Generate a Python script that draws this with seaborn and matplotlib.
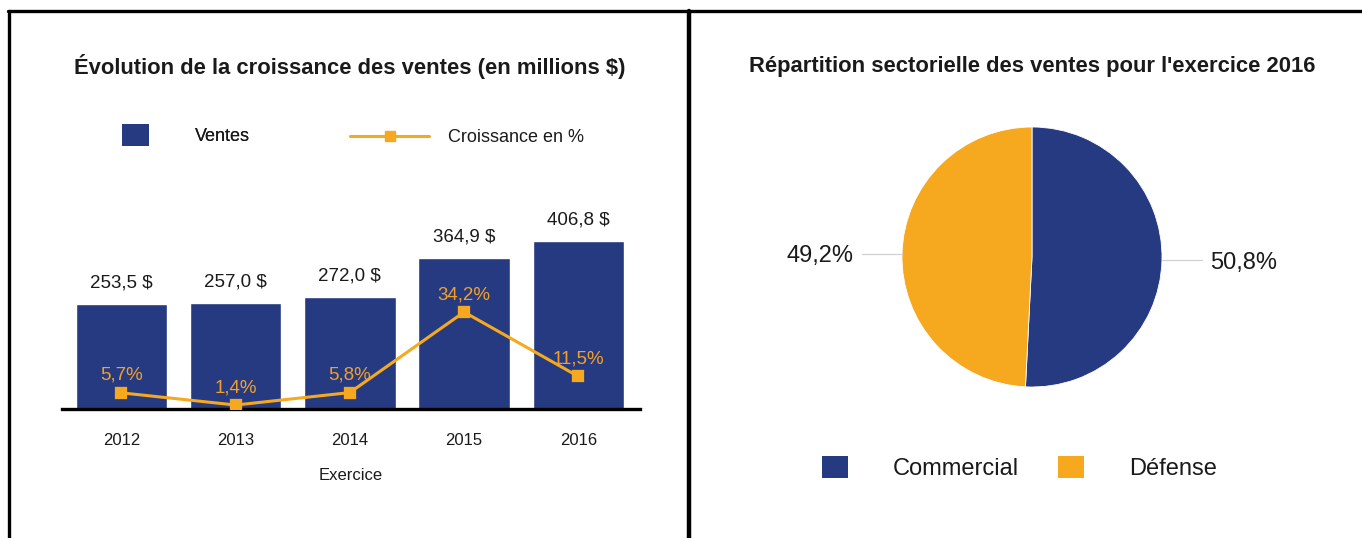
import matplotlib
matplotlib.use("Agg")
import matplotlib.pyplot as plt
from matplotlib.lines import Line2D
from matplotlib.patches import Patch
import numpy as np
import pandas as pd
import seaborn as sns

# Data
years = ["2012", "2013", "2014", "2015", "2016"]
sales = [253.5, 257.0, 272.0, 364.9, 406.8]
growth = [5.7, 1.4, 5.8, 34.2, 11.5]
sectors = ["Commercial", "Défense"]
sector_share = [50.8, 49.2]

NAVY = "#253a80"
ORANGE = "#f6a81f"
ORANGE_TXT = "#f3a02a"
INK = "#1a1a1a"

sns.set_theme(style="white")
plt.rcParams["font.family"] = ["Liberation Sans", "DejaVu Sans"]
plt.rcParams["text.color"] = INK

W, H = 1362, 538
fig = plt.figure(figsize=(W / 100, H / 100), dpi=100)
fig.patch.set_facecolor("white")


def px(x0, y0, x1, y1):
    """Figure-fraction rect from pixel box (top-left origin)."""
    return [x0 / W, 1 - y1 / H, (x1 - x0) / W, (y1 - y0) / H]


def fx(x):
    return x / W


def fy(y):
    return 1 - y / H


# Panel frame
fig.add_artist(Line2D([fx(8), 1], [fy(11), fy(11)], color="black", lw=2.4))
fig.add_artist(Line2D([fx(9), fx(9)], [fy(11), 0], color="black", lw=2.4))
fig.add_artist(Line2D([fx(689), fx(689)], [fy(11), 0], color="black", lw=3.2))

# ---------- Left: sales bars + growth line ----------
df = pd.DataFrame({"Exercice": years, "Ventes": sales, "Croissance": growth})

ax = fig.add_axes(px(62, 200, 640, 409))
sns.barplot(data=df, x="Exercice", y="Ventes", color=NAVY, width=0.8,
            saturation=1, ax=ax)
ax.set_ylim(0, 209 / 0.413)

ax2 = ax.twinx()
sns.pointplot(data=df, x="Exercice", y="Croissance", color=ORANGE,
              markers="s", markersize=7, linewidth=2.2, ax=ax2)
ax2.set_ylim(0, 209 / 2.835)

for a in (ax, ax2):
    a.set_xlim(-0.52, 4.54)
    for s in a.spines.values():
        s.set_visible(False)
    a.set_yticks([])
    a.set_ylabel("")
    a.grid(False)
ax.patch.set_alpha(0)
ax2.set_xlabel("")
ax.spines["bottom"].set_visible(True)
ax.spines["bottom"].set_color("black")
ax.spines["bottom"].set_linewidth(2.4)
ax.tick_params(axis="x", length=0, pad=17, labelsize=12, labelcolor=INK)
ax.set_xlabel("Exercice", fontsize=12, color=INK, labelpad=15)

for i, v in enumerate(sales):
    ax.annotate(f"{v:.1f} $".replace(".", ","), (i, v), xytext=(0, 15),
                textcoords="offset points", ha="center", va="center",
                fontsize=13.5, color=INK)
for i, g in enumerate(growth):
    ax2.annotate(f"{g:.1f}%".replace(".", ","), (i, g), xytext=(0, 12.5),
                 textcoords="offset points", ha="center", va="center",
                 fontsize=13.5, color=ORANGE_TXT)

fig.text(fx(350), fy(66), "Évolution de la croissance des ventes (en millions $)",
         ha="center", va="center", fontsize=15.8, fontweight="bold", color=INK)

# Legend, two separate entries
leg1 = fig.legend(handles=[Patch(facecolor=NAVY, edgecolor="none", label="Ventes")],
                  loc="center left", bbox_to_anchor=(fx(122), fy(135)),
                  frameon=False, fontsize=13, handlelength=1.5, handleheight=1.5,
                  handletextpad=2.55, borderpad=0, borderaxespad=0)
fig.add_artist(leg1)
fig.legend(handles=[Line2D([], [], color=ORANGE, lw=2.2, marker="s", markersize=7,
                           label="Croissance en %")],
           loc="center left", bbox_to_anchor=(fx(350), fy(138)),
           frameon=False, fontsize=13, handlelength=4.4, handletextpad=1.05,
           borderpad=0, borderaxespad=0)

# ---------- Right: sector pie ----------
R = 130
cx, cy = 1032, 257
pax = fig.add_axes(px(cx - R, cy - R, cx + R, cy + R))
wedges, _ = pax.pie(sector_share, colors=[NAVY, ORANGE], startangle=90,
                    counterclock=False,
                    wedgeprops=dict(edgecolor="white", linewidth=0.6))
pax.set_xlim(-1, 1)
pax.set_ylim(-1, 1)
pax.set_aspect("equal")
pax.axis("off")

for w, share in zip(wedges, sector_share):
    mid = np.deg2rad((w.theta1 + w.theta2) / 2)
    ex, ey = np.cos(mid), np.sin(mid)
    side = np.sign(ex)
    pax.plot([ex, side * 1.31], [ey, ey], color="#d0d0d0", lw=0.9,
             clip_on=False)
    pax.text(side * 1.37, ey - 0.02, f"{share:.1f}%".replace(".", ","),
             ha="left" if side > 0 else "right", va="center",
             fontsize=17, color=INK, clip_on=False)

fig.text(fx(1032), fy(66),
         "Répartition sectorielle des ventes pour l'exercice 2016",
         ha="center", va="center", fontsize=15.8, fontweight="bold", color=INK)

fig.legend(handles=[Patch(facecolor=c, edgecolor="none", label=l)
                    for c, l in zip([NAVY, ORANGE], sectors)],
           loc="center left", bbox_to_anchor=(fx(822), fy(468)), ncol=2,
           frameon=False, fontsize=17, handlelength=1.1, handleheight=1.1,
           handletextpad=1.9, columnspacing=1.65, borderpad=0, borderaxespad=0)

fig.savefig("out.png", dpi=100, facecolor="white")
